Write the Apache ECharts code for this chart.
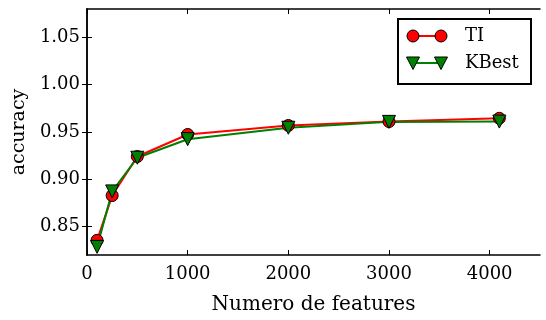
<!DOCTYPE html>
<html>
<head>
<meta charset="utf-8">
<script src="https://cdn.jsdelivr.net/npm/echarts@6/dist/echarts.min.js"></script>
<style>
  html, body { margin: 0; padding: 0; background: #fff; }
  #chart { width: 546px; height: 320px; }
</style>
</head>
<body>
<div id="chart"></div>
<script>
// Number of selected features
const features = [100, 250, 500, 1000, 2000, 3000, 4096];
// Accuracy per feature-selection method
const tiAccuracy = [0.8355, 0.8828, 0.9241, 0.9474, 0.9569, 0.9610, 0.9645];
const kbestAccuracy = [0.8286, 0.8872, 0.9228, 0.9424, 0.9545, 0.9607, 0.9610];
const seriesNames = ['TI', 'KBest'];
// Axis ticks
const xTicks = [0, 1000, 2000, 3000, 4000];
const yTicks = [0.85, 0.90, 0.95, 1.00, 1.05];

const FONT = 'DejaVu Serif';
const chart = echarts.init(document.getElementById('chart'), null, { renderer: 'canvas' });

const frameLine = { show: true, lineStyle: { color: '#000', width: 1.5 } };
const innerTick = (vals) => ({ show: true, inside: true, length: 5, customValues: vals, lineStyle: { color: '#000', width: 1 } });

const xAxisBase = { type: 'value', min: 0, max: 4500, splitLine: { show: false }, axisLine: frameLine };
const yAxisBase = { type: 'value', min: 0.82, max: 1.08, splitLine: { show: false }, axisLine: frameLine };

const pair = (xs, ys) => xs.map((x, i) => [x, ys[i]]);

// Legend drawn as a framed box with line+marker samples
const legendX = 398, legendY = 19, legendW = 133, legendH = 65;
const legendRows = [
  { name: seriesNames[0], color: '#ff0000', symbol: 'circle' },
  { name: seriesNames[1], color: '#008000', symbol: 'triangle' }
];
const legendChildren = [{
  type: 'rect',
  shape: { x: 0, y: 0, width: legendW, height: legendH },
  style: { fill: '#fff', stroke: '#000', lineWidth: 2 }
}];
legendRows.forEach((r, i) => {
  const cy = 17 + i * 27;
  legendChildren.push({ type: 'line', shape: { x1: 15, y1: cy, x2: 43, y2: cy }, style: { stroke: r.color, lineWidth: 2 } });
  [15, 43].forEach((cx) => {
    if (r.symbol === 'circle') {
      legendChildren.push({ type: 'circle', shape: { cx: cx, cy: cy, r: 6 }, style: { fill: r.color, stroke: '#000', lineWidth: 1 } });
    } else {
      legendChildren.push({ type: 'polygon', shape: { points: [[cx - 6.5, cy - 6], [cx + 6.5, cy - 6], [cx, cy + 6.5]] }, style: { fill: r.color, stroke: '#000', lineWidth: 1 } });
    }
  });
  legendChildren.push({ type: 'text', x: 67, y: cy, style: { text: r.name, font: '18px "' + FONT + '"', fill: '#000', verticalAlign: 'middle' } });
});

chart.setOption({
  animation: false,
  backgroundColor: '#fff',
  grid: { left: 87, top: 9, width: 453, height: 250, containLabel: false },
  xAxis: [
    Object.assign({}, xAxisBase, {
      position: 'bottom',
      name: 'Numero de features',
      nameLocation: 'middle',
      nameGap: 40,
      nameTextStyle: { fontFamily: FONT, fontSize: 20, color: '#000' },
      axisTick: innerTick(xTicks),
      axisLabel: { customValues: xTicks, margin: 10, fontFamily: FONT, fontSize: 18, color: '#000', formatter: (v) => String(v) }
    }),
    Object.assign({}, xAxisBase, {
      position: 'top',
      axisTick: innerTick(xTicks),
      axisLabel: { show: false }
    })
  ],
  yAxis: [
    Object.assign({}, yAxisBase, {
      position: 'left',
      name: 'accuracy',
      nameLocation: 'middle',
      nameGap: 56,
      nameTextStyle: { fontFamily: FONT, fontSize: 19, color: '#000' },
      axisTick: innerTick(yTicks),
      axisLabel: { customValues: yTicks, margin: 7, fontFamily: FONT, fontSize: 18, color: '#000', formatter: (v) => v.toFixed(2) }
    }),
    Object.assign({}, yAxisBase, {
      position: 'right',
      axisTick: innerTick(yTicks),
      axisLabel: { show: false }
    })
  ],
  series: [
    {
      name: seriesNames[0], type: 'line', xAxisIndex: 0, yAxisIndex: 0,
      data: pair(features, tiAccuracy),
      symbol: 'circle', symbolSize: 12, showAllSymbol: true,
      lineStyle: { color: '#ff0000', width: 2 },
      itemStyle: { color: '#ff0000', borderColor: '#000', borderWidth: 1 }
    },
    {
      name: seriesNames[1], type: 'line', xAxisIndex: 0, yAxisIndex: 0,
      data: pair(features, kbestAccuracy),
      symbol: 'triangle', symbolRotate: 180, symbolSize: 13, showAllSymbol: true,
      lineStyle: { color: '#008000', width: 2 },
      itemStyle: { color: '#008000', borderColor: '#000', borderWidth: 1 }
    }
  ],
  graphic: [{ type: 'group', x: legendX, y: legendY, z: 100, children: legendChildren }]
});
</script>
</body>
</html>
